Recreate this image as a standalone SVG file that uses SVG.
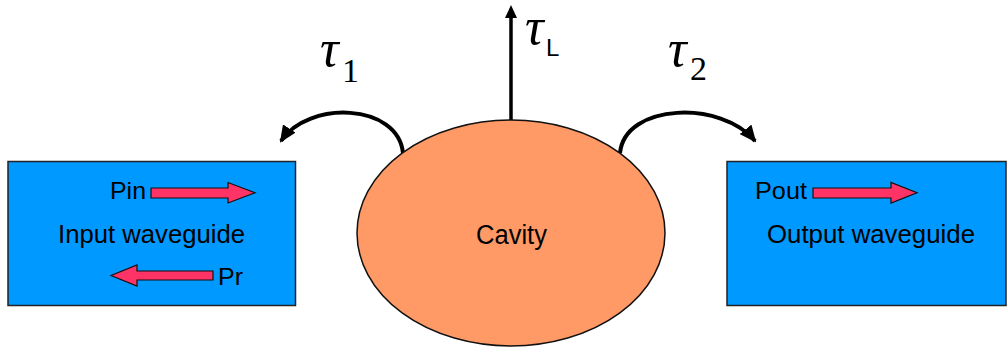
<svg xmlns="http://www.w3.org/2000/svg" width="1008" height="354" viewBox="0 0 1008 354">
  <defs>
    <style>
      .box { fill: #0099ff; stroke: #222; stroke-width: 1.5; }
      .cav { fill: #ff9966; stroke: #111; stroke-width: 1.5; }
      .lbl { font-family: "Liberation Sans", Arial, sans-serif; fill: #000; }
      .blk { fill: #ff3366; stroke: #111; stroke-width: 1.2; stroke-linejoin: miter; }
      .tau { font-family: "Liberation Serif", "Times New Roman", serif; font-style: italic; font-size: 52px; fill: #000; }
      .sub { font-family: "Liberation Serif", "Times New Roman", serif; font-size: 34px; fill: #000; }
      .con { fill: none; stroke: #000; stroke-width: 4; }
    </style>
    <marker id="ah" markerUnits="userSpaceOnUse" viewBox="0 0 17 15" refX="15" refY="7.5" markerWidth="17" markerHeight="15" orient="auto">
      <path d="M0,0 L17,7.5 L0,15 z" fill="#000"/>
    </marker>
  </defs>

  <g id="input-waveguide">
    <rect class="box" x="8" y="161.5" width="287.5" height="144"/>
    <text class="lbl" x="58" y="243" font-size="25" textLength="187" lengthAdjust="spacingAndGlyphs">Input waveguide</text>
    <text class="lbl" x="110" y="198.5" font-size="24" textLength="36" lengthAdjust="spacingAndGlyphs">Pin</text>
    <polygon class="blk" points="151,188 228,188 228,182.5 255,192.8 228,203 228,198 151,198"/>
    <text class="lbl" x="218" y="285" font-size="24" textLength="25" lengthAdjust="spacingAndGlyphs">Pr</text>
    <polygon class="blk" points="213,271 137,271 137,265 111,275.5 137,286 137,280 213,280"/>
  </g>

  <g id="output-waveguide">
    <rect class="box" x="727" y="161.5" width="279" height="144"/>
    <text class="lbl" x="767" y="243" font-size="25" textLength="208" lengthAdjust="spacingAndGlyphs">Output waveguide</text>
    <text class="lbl" x="755" y="199" font-size="24" textLength="52" lengthAdjust="spacingAndGlyphs">Pout</text>
    <polygon class="blk" points="813,188 891,188 891,182.5 917,192.8 891,203 891,198 813,198"/>
  </g>

  <g id="connectors">
    <path class="con" d="M403,153 C398,103 308,100 281,141" marker-end="url(#ah)"/>
    <path class="con" d="M620,153 C625,103 722,100 755,141" marker-end="url(#ah)"/>
    <line x1="511" y1="121" x2="511" y2="16" stroke="#000" stroke-width="3.5"/>
    <polygon points="511,5 505,18 517,18" fill="#000"/>
  </g>

  <g id="cavity">
    <ellipse class="cav" cx="511" cy="233" rx="154" ry="113"/>
    <text class="lbl" x="476" y="244" font-size="27" textLength="71" lengthAdjust="spacingAndGlyphs">Cavity</text>
  </g>

  <g id="labels">
    <text class="tau" x="320" y="66">τ</text>
    <text class="sub" x="342" y="82">1</text>
    <text class="tau" x="525" y="44">τ</text>
    <text class="lbl" x="546" y="56" font-size="24">L</text>
    <text class="tau" x="668" y="66">τ</text>
    <text class="sub" x="690" y="80">2</text>
  </g>
</svg>
